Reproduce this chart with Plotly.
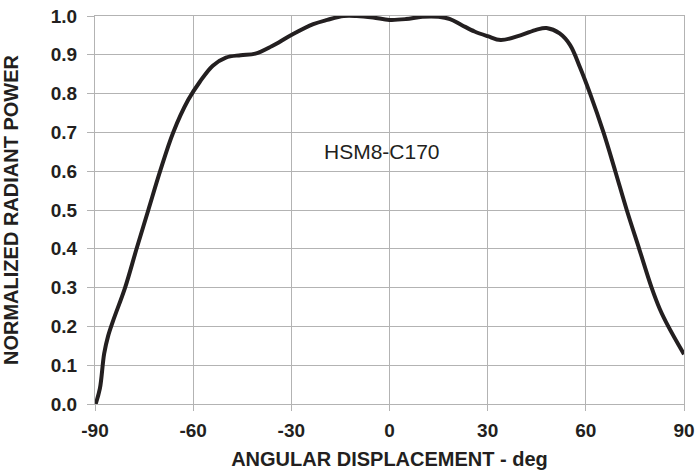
import plotly.graph_objects as go

angle_deg = [-89.8, -88.5, -87.2, -86, -84.4, -80.8, -77.3, -73.7, -70.1, -66.1, -61.5, -58,
             -54, -50, -45.5, -41, -36, -30, -23.3, -19, -14, -10, -5, 0, 5, 10,
             15, 18.5, 22, 26, 30, 34, 40, 45, 48, 52, 55.2, 58.2, 61.3, 65.4,
             69, 72.5, 76.3, 80.1, 82.6, 85.2, 90]
power = [0.0, 0.04, 0.13, 0.175, 0.216, 0.3, 0.4, 0.5, 0.6, 0.7, 0.784, 0.83,
         0.872, 0.893, 0.899, 0.903, 0.922, 0.951, 0.979, 0.99, 1.0, 1.0, 0.996, 0.99, 0.992, 0.998,
         0.998, 0.992, 0.977, 0.96, 0.948, 0.938, 0.95, 0.965, 0.969, 0.955, 0.925, 0.868, 0.8, 0.7,
         0.6, 0.5, 0.4, 0.3, 0.245, 0.2, 0.128]

x_ticks = [-90, -60, -30, 0, 30, 60, 90]
y_ticks = [0.0, 0.1, 0.2, 0.3, 0.4, 0.5, 0.6, 0.7, 0.8, 0.9, 1.0]
label = "HSM8-C170"

ink = "#231f20"
grid = "#b3b3b3"
font_family = "Liberation Sans, Arial, sans-serif"

fig = go.Figure()
fig.add_trace(go.Scatter(x=angle_deg, y=power, mode="lines",
                         line=dict(color=ink, width=4, shape="spline", smoothing=1.0),
                         hoverinfo="skip", showlegend=False))

fig.add_annotation(x=-2.4, y=0.65, text=label, showarrow=False,
                   font=dict(family=font_family, size=21, color=ink))

fig.update_layout(
    width=696, height=472,
    margin=dict(l=95, r=12, t=16, b=68),
    paper_bgcolor="white", plot_bgcolor="white",
    font=dict(family=font_family, color=ink),
    xaxis=dict(range=[-90, 90], tickvals=x_ticks, ticktext=[str(v) for v in x_ticks],
               automargin=False, ticklabelstandoff=3,
               showgrid=True, gridcolor=grid, gridwidth=1,
               showline=True, linecolor=grid, linewidth=1, mirror=True,
               ticks="outside", ticklen=6, tickcolor=grid, zeroline=False,
               tickfont=dict(family=font_family, size=19, color=ink, weight="bold"),
               title=dict(text="ANGULAR DISPLACEMENT - deg", standoff=12,
                          font=dict(family=font_family, size=20, color=ink, weight="bold"))),
    yaxis=dict(range=[0, 1], tickvals=y_ticks, ticktext=[f"{v:.1f}" for v in y_ticks],
               automargin=False, ticklabelstandoff=6,
               showgrid=True, gridcolor=grid, gridwidth=1,
               showline=True, linecolor=grid, linewidth=1, mirror=True,
               ticks="outside", ticklen=7, tickcolor=grid, zeroline=False,
               tickfont=dict(family=font_family, size=19, color=ink, weight="bold"),
               title=dict(text="NORMALIZED RADIANT POWER", standoff=28,
                          font=dict(family=font_family, size=20, color=ink, weight="bold"))),
)

fig.write_html("out.html")
